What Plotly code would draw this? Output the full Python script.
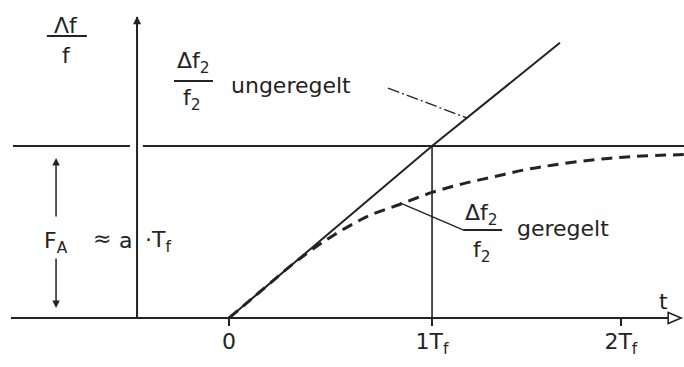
import plotly.graph_objects as go

# --- data (time in units of T_f, relative deviation in units of F_A) ---
ramp_t = [0.0, 1.0, 1.63]            # uncontrolled: rises linearly
ramp_y = [0.0, 1.0, 1.60]

ctrl_t = [0.0, 0.1, 0.2, 0.3, 0.4, 0.5, 0.6, 0.7, 0.84, 1.0,
          1.15, 1.3, 1.45, 1.6, 1.8, 2.0, 2.24]
ctrl_y = [0.0, 0.10, 0.20, 0.30, 0.39, 0.47, 0.54, 0.60, 0.66, 0.73,
          0.78, 0.82, 0.86, 0.89, 0.92, 0.94, 0.95]

limit_level = 1.0                     # F_A = a * T_f
tick_vals = [0.0, 1.0, 1.93]
tick_text = ["0", "1T<sub>f</sub>", "2T<sub>f</sub>"]

INK = "#232323"
FONT = "DejaVu Sans"
FS = 22

fig = go.Figure()

# uncontrolled response (solid)
fig.add_trace(go.Scatter(x=ramp_t, y=ramp_y, mode="lines",
                         line=dict(color=INK, width=2), hoverinfo="skip"))
# controlled response (dashed)
fig.add_trace(go.Scatter(x=ctrl_t, y=ctrl_y, mode="lines", line_shape="spline",
                         line=dict(color=INK, width=3, dash="11px,7px"),
                         hoverinfo="skip"))

line = dict(color=INK, width=2)
shapes = [
    # time axis
    dict(type="line", x0=-1.074, x1=2.17, y0=0, y1=0, line=line),
    dict(type="path", path="M 2.163 0.032 L 2.227 0 L 2.163 -0.032 Z",
         line=dict(color=INK, width=1.6), fillcolor="white"),
    # ordinate
    dict(type="line", x0=-0.453, x1=-0.453, y0=0, y1=1.75, line=line),
    # limit level F_A, broken at the ordinate
    dict(type="line", x0=-1.064, x1=-0.488, y0=limit_level, y1=limit_level, line=line),
    dict(type="line", x0=-0.424, x1=2.3, y0=limit_level, y1=limit_level, line=line),
    # marker at t = 1 T_f
    dict(type="line", x0=1.0, x1=1.0, y0=0, y1=limit_level,
         line=dict(color=INK, width=1.6)),
    # fraction bars
    dict(type="line", x0=-0.897, x1=-0.700, y0=1.640, y1=1.640, line=line),
    dict(type="line", x0=-0.271, x1=-0.079, y0=1.378, y1=1.378, line=line),
    dict(type="line", x0=1.153, x1=1.345, y0=0.512, y1=0.512, line=line),
    # leader lines
    dict(type="line", x0=0.783, x1=1.172, y0=1.337, y1=1.163,
         line=dict(color=INK, width=1.3, dash="12px,3px,2px,3px")),
    dict(type="line", x0=0.842, x1=1.153, y0=0.669, y1=0.512,
         line=dict(color=INK, width=1.4)),
]

def label(x, y, text, anchor="center", size=FS):
    return dict(x=x, y=y, xref="x", yref="y", text=text, showarrow=False,
                xanchor=anchor, yanchor="middle",
                font=dict(family=FONT, size=size, color=INK))

def arrow(x, y, ax, ay, width=1.5, size=1.0):
    return dict(x=x, y=y, ax=ax, ay=ay, xref="x", yref="y", axref="x", ayref="y",
                text="", showarrow=True, arrowhead=2, arrowsize=size,
                arrowwidth=width, arrowcolor=INK, standoff=0, startstandoff=0)

annotations = [
    label(-0.803, 1.698, "\u039bf"),
    label(-0.800, 1.529, "f"),
    label(-0.177, 1.483, "\u0394f<sub>2</sub>"),
    label(-0.180, 1.270, "f<sub>2</sub>"),
    label(0.0, 1.352, "ungeregelt", anchor="left"),
    label(1.246, 0.599, "\u0394f<sub>2</sub>"),
    label(1.246, 0.386, "f<sub>2</sub>"),
    label(1.409, 0.523, "geregelt", anchor="left"),
    label(-0.852, 0.440, "F<sub>A</sub>"),
    label(-0.626, 0.465, "\u2248"),
    label(-0.512, 0.453, "a"),
    label(-0.425, 0.443, "\u00b7T<sub>f</sub>", anchor="left"),
    label(2.138, 0.093, "t"),
    # double arrow for F_A
    arrow(-0.852, 0.930, -0.852, 0.581),
    arrow(-0.852, 0.058, -0.852, 0.355),
    # ordinate arrow head
    arrow(-0.453, 1.755, -0.453, 1.62, width=1.6, size=1.0),
]

fig.update_layout(
    width=684, height=367,
    margin=dict(l=0, r=0, t=0, b=0),
    paper_bgcolor="white", plot_bgcolor="white",
    showlegend=False,
    shapes=shapes,
    annotations=annotations,
    xaxis=dict(range=[-1.128, 2.241], showgrid=False, zeroline=False,
               showline=False, anchor="free", position=49 / 367,
               tickmode="array", tickvals=tick_vals, ticktext=tick_text,
               ticks="outside", ticklen=7, tickwidth=2, tickcolor=INK,
               ticklabelstandoff=-3,
               tickfont=dict(family=FONT, size=FS, color=INK)),
    yaxis=dict(range=[-0.285, 1.849], visible=False),
)

fig.write_html("out.html")
